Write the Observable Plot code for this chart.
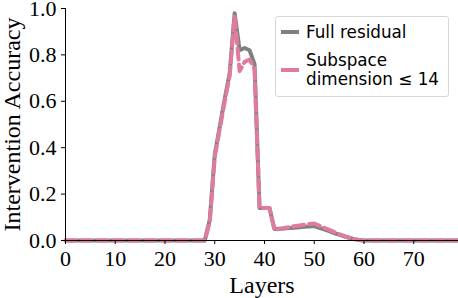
<!DOCTYPE html>
<html><head><meta charset="utf-8">
<script src="https://cdn.jsdelivr.net/npm/d3@7"></script>
<script src="https://cdn.jsdelivr.net/npm/@observablehq/plot@0.6"></script>
<style>
body{margin:0;background:#fff;}
#wrap{position:relative;width:458px;height:298px;}
#legend{position:absolute;left:275px;top:16px;width:174px;height:81px;border:1px solid #d8d8d8;border-radius:3px;background:rgba(255,255,255,0.8);font-family:"DejaVu Sans",sans-serif;font-size:16.8px;color:#000;box-sizing:border-box;}
.item{position:absolute;left:5px;display:flex;align-items:center;white-space:nowrap;}
.sw{width:18px;height:0;border-top:4px solid;margin-right:7px;}
</style>
</head><body>
<div id="wrap"><div id="legend">
<div class="item" style="top:5px"><span class="sw" style="border-color:#808080"></span><span>Full residual</span></div>
<div class="item" style="top:34px"><span class="sw" style="border-color:#e07ba0"></span><span style="line-height:19px">Subspace<br>dimension ≤ 14</span></div>
</div></div>
<script>
const layers = d3.range(0, 80);
const fullResidual = [
 0,0,0,0,0,0,0,0,0,0,
 0,0,0,0,0,0,0,0,0,0,
 0,0,0,0,0,0,0,0,0,0.09,
 0.37,0.49,0.61,0.72,0.98,0.82,0.83,0.82,0.76,0.14,
 0.14,0.14,0.05,0.051,0.052,0.054,0.055,0.057,0.059,0.06,
 0.062,0.055,0.048,0.04,0.032,0.025,0.018,0.012,0.006,0.002,
 0,0,0,0,0,0,0,0,0,0,
 0,0,0,0,0,0,0,0,0,0];
const subspace = [
 0,0,0,0,0,0,0,0,0,0,
 0,0,0,0,0,0,0,0,0,0,
 0,0,0,0,0,0,0,0,0,0.08,
 0.36,0.48,0.6,0.71,0.97,0.73,0.77,0.78,0.74,0.14,
 0.14,0.14,0.046,0.05,0.054,0.058,0.062,0.065,0.068,0.071,
 0.073,0.064,0.055,0.046,0.037,0.028,0.02,0.012,0.006,0.002,
 0,0,0,0,0,0,0,0,0,0,
 0,0,0,0,0,0,0,0,0,0];
const xTicks = [0,10,20,30,40,50,60,70];
const yTicks = [0,0.2,0.4,0.6,0.8,1.0];
const seriesNames = ["Full residual","Subspace dimension ≤ 14"];

const dFull = layers.map((l,i)=>({layer:l, value:fullResidual[i]}));
const dSub = layers.map((l,i)=>({layer:l, value:subspace[i]}));

const chart = Plot.plot({
  width:458, height:298,
  marginLeft:65, marginRight:0, marginTop:8, marginBottom:58,
  style:{fontFamily:"'Liberation Serif', serif", fontSize:"22px", background:"#fff", color:"#000", overflow:"visible"},
  x:{domain:[0,79]},
  y:{domain:[0,1]},
  marks:[
    Plot.line(dFull,{x:"layer",y:"value",stroke:"#808080",strokeWidth:4,strokeLinejoin:"round"}),
    Plot.line(dSub,{x:"layer",y:"value",stroke:"#e07ba0",strokeWidth:4,strokeDasharray:"11,5"}),
    Plot.axisX({ticks:xTicks, tickSize:4, tickPadding:6, fontSize:22, label:null}),
    Plot.axisX({ticks:[], label:"Layers", labelAnchor:"center", labelArrow:"none", labelOffset:52, fontSize:24}),
    Plot.axisY({ticks:yTicks, tickSize:4, tickPadding:5, fontSize:22, tickFormat:d3.format(".1f"), label:null}),
    Plot.axisY({ticks:[], label:"Intervention Accuracy", labelAnchor:"center", labelArrow:"none", labelOffset:63, fontSize:24}),
    Plot.ruleX([0],{stroke:"#000"}),
    Plot.ruleY([0],{stroke:"#000"})
  ]
});
document.getElementById("wrap").prepend(chart);
</script>
</body></html>
